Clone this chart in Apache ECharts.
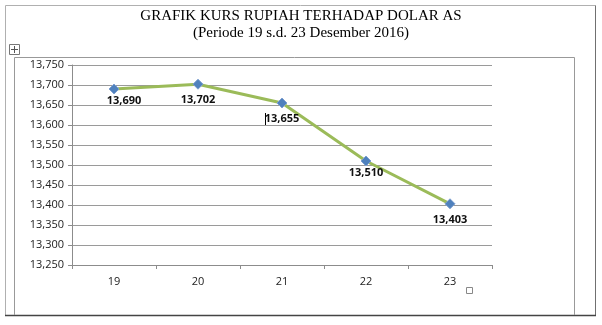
<!DOCTYPE html>
<html><head><meta charset="utf-8">
<script src="https://cdn.jsdelivr.net/npm/echarts@6/dist/echarts.min.js"></script>
<style>html,body{margin:0;padding:0;background:#fff}#c{width:602px;height:325px}</style>
</head><body><div id="c"></div>
<script>
const categories = ['19', '20', '21', '22', '23'];
const kurs = [13690, 13702, 13655, 13510, 13403];
const yMin = 13250, yMax = 13750, yStep = 50;
const titleLines = ['GRAFIK KURS RUPIAH TERHADAP DOLAR AS', '(Periode 19 s.d. 23 Desember 2016)'];

const fmt = v => Number(v).toLocaleString('en-US');
const labelOffsets = [[10, -2], [0, 2], [0, 2], [0, -2], [0, 2]];
const chart = echarts.init(document.getElementById('c'), null, {renderer: 'canvas'});
chart.setOption({
  animation: false,
  backgroundColor: '#fff',
  grid: {left: 72, right: 110, top: 65, bottom: 60},
  xAxis: {
    type: 'category', data: categories, boundaryGap: true,
    axisLine: {lineStyle: {color: '#8c8c8c', width: 1}},
    axisTick: {show: true, length: 4, lineStyle: {color: '#8c8c8c'}},
    axisLabel: {color: '#222', fontFamily: 'Open Sans', fontSize: 11, margin: 11}
  },
  yAxis: {
    type: 'value', min: yMin, max: yMax, interval: yStep,
    axisLine: {show: true, lineStyle: {color: '#8c8c8c'}},
    axisTick: {show: true, length: 4, lineStyle: {color: '#8c8c8c'}},
    splitLine: {lineStyle: {color: '#9a9a9a', width: 1}},
    axisLabel: {color: '#222', fontFamily: 'Open Sans', fontSize: 11, margin: 8, formatter: fmt}
  },
  series: [{
    type: 'line',
    data: kurs.map((v, i) => ({value: v, label: {offset: labelOffsets[i]}})),
    symbol: 'diamond', symbolSize: 10,
    lineStyle: {color: '#9bbb59', width: 3},
    itemStyle: {color: '#4f81bd', borderColor: '#7d9fd0', borderWidth: 1},
    label: {show: true, position: 'bottom', distance: 3, color: '#111', fontWeight: 'bold',
            fontFamily: 'Open Sans', fontSize: 11, formatter: p => fmt(p.value)}
  }],
  graphic: [
    {type: 'text', left: 'center', top: 9, style: {text: titleLines[0], font: '15px "Liberation Serif"', fill: '#000'}},
    {type: 'text', left: 'center', top: 26, style: {text: titleLines[1], font: '15px "Liberation Serif"', fill: '#000'}},
    // outer frame
    {type: 'polyline', shape: {points: [[5.5, 315.5], [5.5, 5.5], [595.5, 5.5]]}, style: {stroke: '#b0b0b0', lineWidth: 1, fill: null}},
    {type: 'line', shape: {x1: 595.5, y1: 5.5, x2: 595.5, y2: 315.5}, style: {stroke: '#707070', lineWidth: 1}},
    {type: 'line', shape: {x1: 5, y1: 315.5, x2: 596, y2: 315.5}, style: {stroke: '#444', lineWidth: 1.5}},
    // chart frame
    {type: 'polyline', shape: {points: [[14.5, 315], [14.5, 57.5], [574.5, 57.5], [574.5, 315]]}, style: {stroke: '#999', lineWidth: 1, fill: null}},
    // move icon
    {type: 'rect', shape: {x: 9.5, y: 44.5, width: 10, height: 10}, style: {stroke: '#777', fill: '#fff', lineWidth: 1}},
    {type: 'line', shape: {x1: 14.5, y1: 46, x2: 14.5, y2: 53}, style: {stroke: '#555', lineWidth: 1}},
    {type: 'line', shape: {x1: 11, y1: 49.5, x2: 18, y2: 49.5}, style: {stroke: '#555', lineWidth: 1}},
    // small square
    {type: 'rect', shape: {x: 466.5, y: 287.5, width: 6, height: 6}, style: {stroke: '#888', fill: '#fff', lineWidth: 1}},
    // text cursor
    {type: 'line', shape: {x1: 265.5, y1: 113, x2: 265.5, y2: 126}, style: {stroke: '#000', lineWidth: 1}}
  ]
});
</script></body></html>
